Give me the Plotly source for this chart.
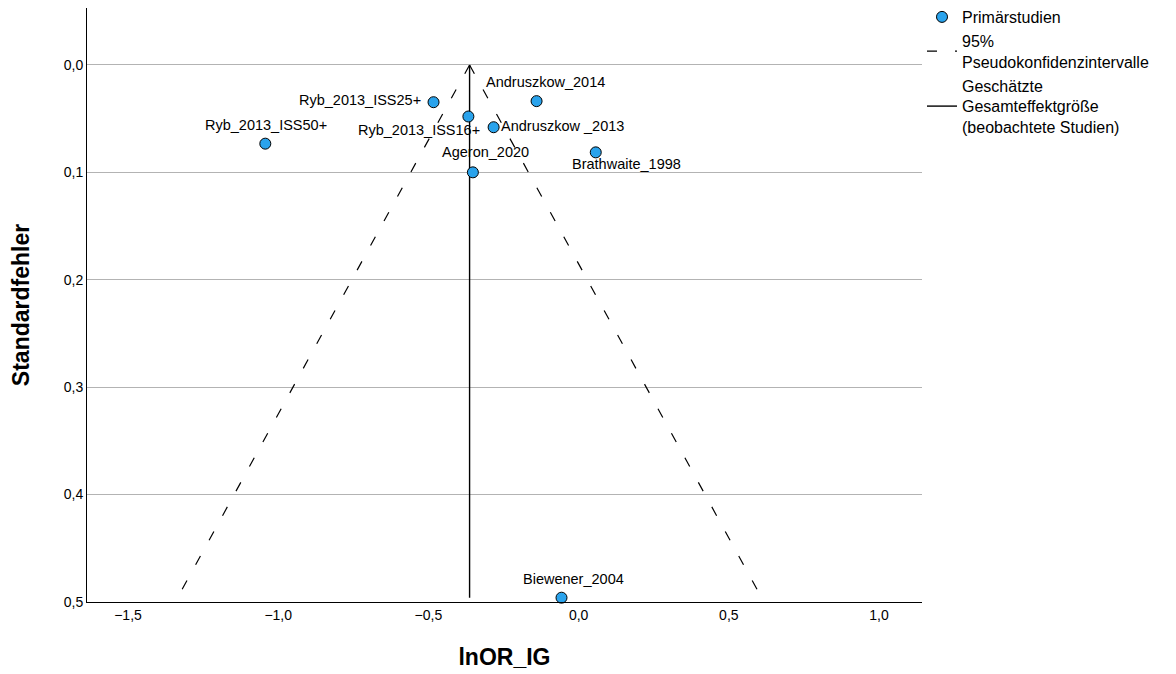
import plotly.graph_objects as go

# ---- data ----
studies = ["Ryb_2013_ISS50+", "Ryb_2013_ISS25+", "Ryb_2013_ISS16+", "Andruszkow_2014",
           "Andruszkow _2013", "Ageron_2020", "Brathwaite_1998", "Biewener_2004"]
lnor = [-1.043, -0.483, -0.367, -0.140, -0.283, -0.352, 0.057, -0.057]
se = [0.0733, 0.0347, 0.048, 0.0337, 0.058, 0.100, 0.0814, 0.496]

pooled = -0.363
line_se = [0.0, 0.496]
ci_lower = [-0.363, -1.335]
ci_upper = [-0.363, 0.609]

x_ticks = [-1.5, -1.0, -0.5, 0.0, 0.5, 1.0]
y_ticks = [0.0, 0.1, 0.2, 0.3, 0.4, 0.5]

# ---- label placement (style, pixels) ----
label_style = {
    "Ryb_2013_ISS50+": dict(xanchor="center", xshift=1, yshift=19),
    "Ryb_2013_ISS25+": dict(xanchor="right", xshift=-11, yshift=2),
    "Ryb_2013_ISS16+": dict(xanchor="right", xshift=14, yshift=-14),
    "Andruszkow_2014": dict(xanchor="left", xshift=-53, yshift=19),
    "Andruszkow _2013": dict(xanchor="left", xshift=5, yshift=1),
    "Ageron_2020": dict(xanchor="left", xshift=-33, yshift=20),
    "Brathwaite_1998": dict(xanchor="left", xshift=-26, yshift=-12),
    "Biewener_2004": dict(xanchor="left", xshift=-41, yshift=19),
}

FONT = "Liberation Sans, Arial, sans-serif"

fig = go.Figure()

fig.add_trace(go.Scatter(
    x=ci_lower, y=line_se, mode="lines",
    line=dict(color="black", width=1.2, dash="10px,18px"),
    name="95%<br>Pseudokonfidenzintervalle", legendgroup="ci", legendrank=2,
    hoverinfo="skip"))
fig.add_trace(go.Scatter(
    x=ci_upper, y=line_se, mode="lines",
    line=dict(color="black", width=1.2, dash="10px,18px"),
    name="95%<br>Pseudokonfidenzintervalle", legendgroup="ci", showlegend=False,
    hoverinfo="skip"))
fig.add_trace(go.Scatter(
    x=[pooled, pooled], y=line_se, mode="lines",
    line=dict(color="black", width=1.4), legendrank=3,
    name="Geschätzte<br>Gesamteffektgröße<br>(beobachtete Studien)"))
fig.add_trace(go.Scatter(
    x=lnor, y=se, mode="markers", text=studies, legendrank=1,
    marker=dict(size=11, color="#2AA3EC", line=dict(color="black", width=1)),
    name="Primärstudien", cliponaxis=False))

for s, xv, yv in zip(studies, lnor, se):
    st = label_style[s]
    fig.add_annotation(x=xv, y=yv, text=s, showarrow=False,
                       xanchor=st["xanchor"], yanchor="middle",
                       xshift=st["xshift"], yshift=st["yshift"],
                       font=dict(family=FONT, size=14.5, color="black"))

# paper spans y 0..602 px; the plot area starts 8 px below the top
fig.update_layout(
    width=1176, height=674,
    margin=dict(l=87, r=254, t=0, b=72),
    paper_bgcolor="white", plot_bgcolor="white",
    separators=",.",
    font=dict(family=FONT, size=14, color="black"),
    showlegend=True,
    legend=dict(x=1.0, xanchor="left", y=1.0, yanchor="top",
                font=dict(family=FONT, size=16, color="black"),
                tracegroupgap=0, itemwidth=30, bgcolor="rgba(0,0,0,0)"),
    xaxis=dict(range=[-1.6365, 1.143], tickvals=x_ticks,
               tickformat=".1f", showgrid=False, zeroline=False,
               showline=True, linecolor="black", linewidth=1,
               ticks="", tickfont=dict(size=14),
               title=dict(text="<b>lnOR_IG</b>", font=dict(size=23), standoff=27)),
    yaxis=dict(range=[0.5, -0.053], tickvals=y_ticks, domain=[0, 594 / 602],
               tickformat=".1f", showgrid=True, gridcolor="#b3b3b3", gridwidth=1,
               zeroline=False, showline=True, linecolor="black", linewidth=1,
               ticks="", tickfont=dict(size=14),
               title=dict(text="<b>Standardfehler</b>", font=dict(size=23), standoff=27)),
)

# remove the default 8px page margin so the figure fills the window exactly
fig.write_html("out.html", config={"displayModeBar": False},
               post_script="document.body.style.margin='0';document.body.style.overflow='hidden';")
